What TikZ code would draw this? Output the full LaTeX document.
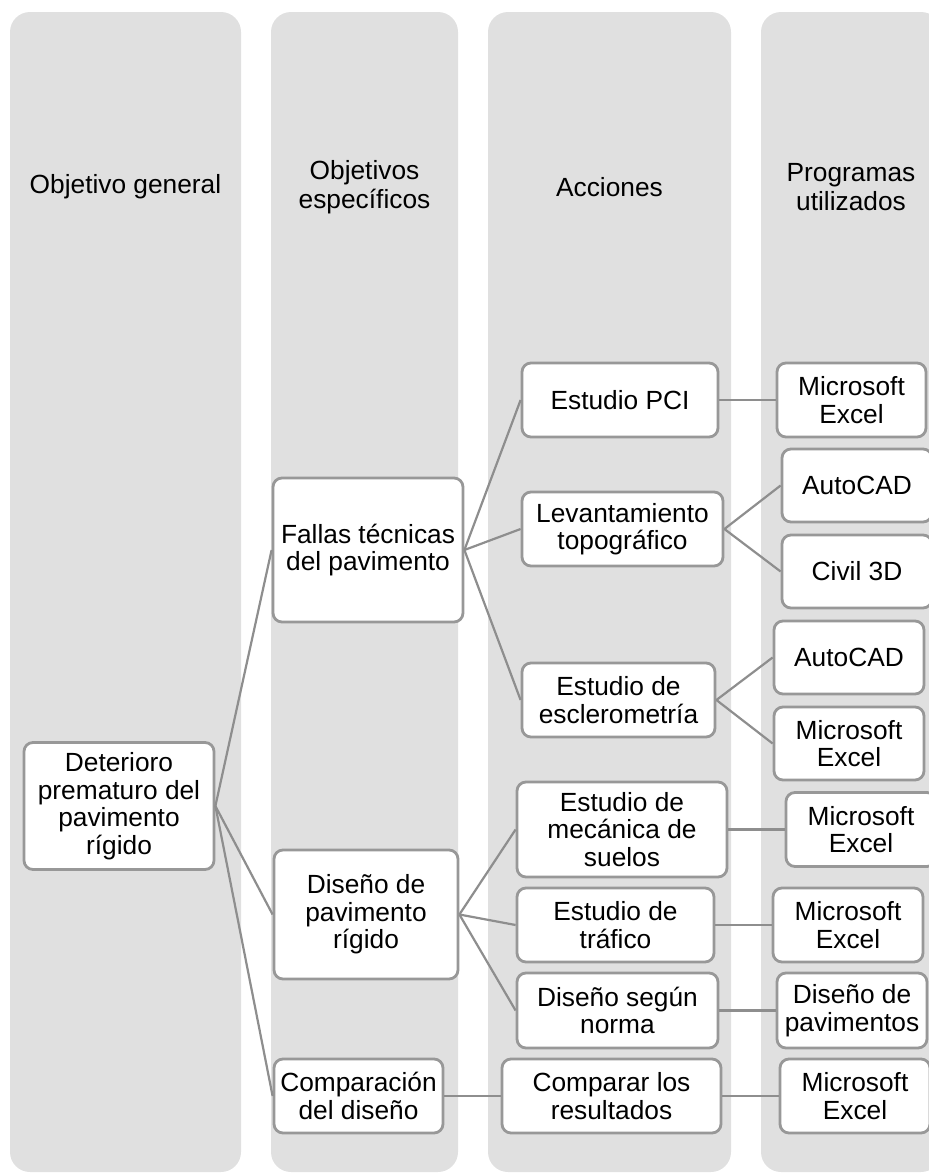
\documentclass[tikz,border=0pt]{standalone}
\usepackage{fontspec}
\setmainfont{Liberation Sans}
\definecolor{ColumnGray}{RGB}{224,224,224}
\definecolor{FrameGray}{RGB}{152,152,152}
\definecolor{LinkGray}{RGB}{142,142,142}
\tikzset{
  column/.style={fill=ColumnGray,rounded corners=20pt},
  headtext/.style={align=center,font=\fontsize{26.3}{29}\selectfont},
  taskbox/.style={draw=FrameGray,line width=2.8pt,fill=white,rounded corners=9pt,
    align=center,inner sep=0pt,font=\fontsize{26.3}{27.5}\selectfont},
  link/.style={draw=LinkGray,line width=2.2pt}
}
\newcommand{\task}[5]{%
  \node[taskbox,minimum width=#4pt,minimum height=#5pt] (#1) at #2 {#3};}

\begin{document}
\begin{tikzpicture}[x=1pt,y=-1pt]
  \useasboundingbox (0,0) rectangle (929,1173);
  \clip (0,0) rectangle (929,1173);
  \fill[column] (10,12) rectangle (241,1172);
  \fill[column] (271,12) rectangle (458,1172);
  \fill[column] (488,12) rectangle (731,1172);
  \fill[column] (761,12) rectangle (941,1172);
  \node[headtext] (hgen) at (125.5,187) {Objetivo general};
  \node[headtext] (hesp) at (364.5,187) {Objetivos\\específicos};
  \node[headtext] (hacc) at (609.5,187) {Acciones};
  \node[headtext] (hprog) at (851,187) {Programas\\utilizados};
  \task{dete}{(119,806)}{Deterioro\\prematuro del\\pavimento\\rígido}{190}{127}
  \task{fallas}{(368,550)}{Fallas técnicas\\del pavimento}{190}{144}
  \task{diseno}{(366,914.5)}{Diseño de\\pavimento\\rígido}{184}{129}
  \task{compar}{(358.5,1096)}{Comparación\\del diseño}{169}{74}
  \task{pci}{(620,400)}{Estudio PCI}{196}{74}
  \task{levant}{(622.5,529)}{Levantamiento\\topográfico}{201}{74}
  \task{escler}{(618.5,700)}{Estudio de\\esclerometría}{193}{74}
  \task{mecan}{(622,829.5)}{Estudio de\\mecánica de\\suelos}{210}{95}
  \task{trafico}{(615.5,925)}{Estudio de\\tráfico}{197}{74}
  \task{norma}{(617.5,1010.5)}{Diseño según\\norma}{201}{75}
  \task{compres}{(611.5,1096)}{Comparar los\\resultados}{219}{74}
  \task{excelA}{(851.5,400)}{Microsoft\\Excel}{149}{74}
  \task{autocadA}{(857,485.5)}{AutoCAD}{150}{73}
  \task{civil}{(857,571.5)}{Civil 3D}{150}{73}
  \task{autocadB}{(849,657.5)}{AutoCAD}{150}{73}
  \task{excelB}{(849,743.5)}{Microsoft\\Excel}{150}{73}
  \task{excelC}{(861,829.5)}{Microsoft\\Excel}{150}{74}
  \task{excelD}{(848,925)}{Microsoft\\Excel}{150}{74}
  \task{pavim}{(852,1010.5)}{Diseño de\\pavimentos}{150}{75}
  \task{excelE}{(855,1096)}{Microsoft\\Excel}{150}{74}
  \foreach \a/\b in {dete/fallas,dete/diseno,dete/compar,
      fallas/pci,fallas/levant,fallas/escler,
      diseno/mecan,diseno/trafico,diseno/norma,compar/compres,
      pci/excelA,levant/autocadA,levant/civil,escler/autocadB,escler/excelB,
      mecan/excelC,trafico/excelD,norma/pavim,compres/excelE}
    \draw[link] (\a.east) -- (\b.west);
\end{tikzpicture}
\end{document}
